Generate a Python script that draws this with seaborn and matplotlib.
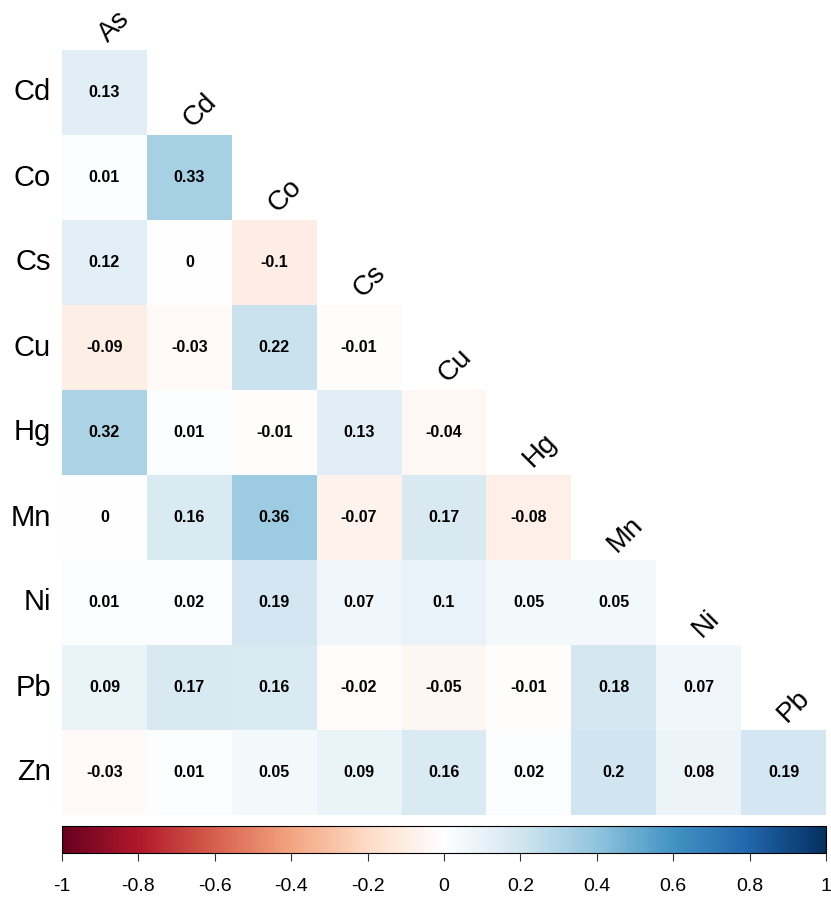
import numpy as np
import pandas as pd
import seaborn as sns
import matplotlib.pyplot as plt
from matplotlib.colors import LinearSegmentedColormap

row_names = ["Cd", "Co", "Cs", "Cu", "Hg", "Mn", "Ni", "Pb", "Zn"]
col_names = ["As", "Cd", "Co", "Cs", "Cu", "Hg", "Mn", "Ni", "Pb"]

r_cd = [0.13]
r_co = [0.01, 0.33]
r_cs = [0.12, 0, -0.1]
r_cu = [-0.09, -0.03, 0.22, -0.01]
r_hg = [0.32, 0.01, -0.01, 0.13, -0.04]
r_mn = [0, 0.16, 0.36, -0.07, 0.17, -0.08]
r_ni = [0.01, 0.02, 0.19, 0.07, 0.1, 0.05, 0.05]
r_pb = [0.09, 0.17, 0.16, -0.02, -0.05, -0.01, 0.18, 0.07]
r_zn = [-0.03, 0.01, 0.05, 0.09, 0.16, 0.02, 0.2, 0.08, 0.19]
cbar_ticks = [-1, -0.8, -0.6, -0.4, -0.2, 0, 0.2, 0.4, 0.6, 0.8, 1]

# corrplot-style RdBu with a pure white centre
rdbu_cols = ["#67001F", "#B2182B", "#D6604D", "#F4A582", "#FDDBC7", "#FFFFFF",
             "#D1E5F0", "#92C5DE", "#4393C3", "#2166AC", "#053061"]
cmap = LinearSegmentedColormap.from_list("corr_rdbu", rdbu_cols, N=256)

rows = [r_cd, r_co, r_cs, r_cu, r_hg, r_mn, r_ni, r_pb, r_zn]
n = len(row_names)
mat = np.full((n, n), np.nan)
for i, r in enumerate(rows):
    mat[i, :len(r)] = r
df = pd.DataFrame(mat, index=row_names, columns=col_names)
mask = np.isnan(mat)
labels = np.where(mask, "", np.vectorize(lambda v: f"{v:g}")(np.nan_to_num(mat)))

plt.rcParams["font.family"] = ["Liberation Sans", "DejaVu Sans"]

fig = plt.figure(figsize=(8.31, 8.99), dpi=100)
ax = fig.add_axes([62 / 831, 1 - 815 / 899, 764 / 831, 765 / 899])
cax = fig.add_axes([62 / 831, 1 - 853 / 899, 764 / 831, 27 / 899])

sns.heatmap(df, mask=mask, cmap=cmap, vmin=-1, vmax=1, annot=labels, fmt="",
            annot_kws={"fontsize": 11.5, "fontweight": "bold", "color": "black"},
            cbar_ax=cax, cbar_kws={"orientation": "horizontal", "ticks": cbar_ticks},
            ax=ax)

ax.set_xticks([])
ax.set_xlabel("")
ax.set_ylabel("")
ax.tick_params(axis="y", length=0, labelsize=21, pad=8, labelrotation=0)

# diagonal column labels sitting on top of each diagonal cell
for j, name in enumerate(col_names):
    ax.text(j + 0.54, j - 0.08, name, rotation=45, rotation_mode="anchor",
            ha="left", va="baseline", fontsize=20, clip_on=False)

cb = ax.collections[0].colorbar
cb.outline.set_edgecolor("black")
cb.outline.set_linewidth(0.8)
cb.set_ticklabels([f"{t:g}" for t in cbar_ticks])
cax.tick_params(axis="x", direction="out", length=6, labelsize=14, pad=12, color="#333333")

fig.savefig("out.png", dpi=100)
